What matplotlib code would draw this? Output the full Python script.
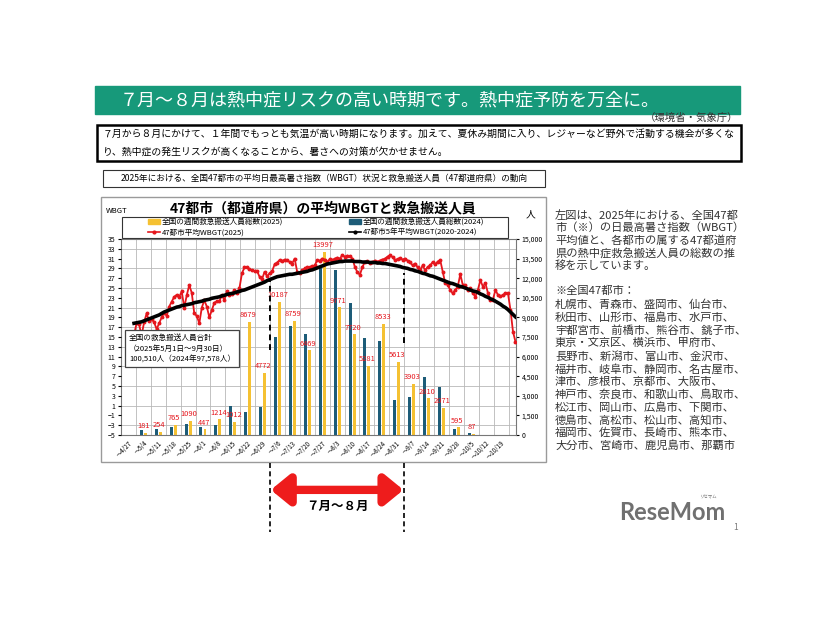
import numpy as np
import matplotlib
matplotlib.use('Agg')
import matplotlib.pyplot as plt
from matplotlib.patches import Rectangle, Patch
from matplotlib.lines import Line2D

plt.rcParams['font.family'] = ['Noto Sans CJK JP', 'DejaVu Sans']

# weekly categories (bars)
weeks = ['～4/27', '～5/4', '～5/11', '～5/18', '～5/25', '～6/1', '～6/8', '～6/15',
         '～6/22', '～6/29', '～7/6', '～7/13', '～7/20', '～7/27', '～8/3', '～8/10',
         '～8/17', '～8/24', '～8/31', '～9/7', '～9/14', '～9/21', '～9/28', '～10/5',
         '～10/12', '～10/19']
persons_2025 = [0, 181, 254, 765, 1090, 447, 1214, 1012, 8679, 4772, 10187, 8759, 6469,
                13997, 9771, 7720, 5281, 8533, 5613, 3903, 2810, 2071, 595, 87, 0, 0]
persons_2024 = [0, 380, 480, 640, 840, 630, 740, 2220, 1790, 2180, 7470, 8340, 7730,
                12900, 12600, 10080, 7400, 7220, 2680, 2880, 4410, 3650, 470, 140, 0, 0]

# daily WBGT, 5/1 - 9/30
wbgt_2025 = [15.4, 17.8, 17.6, 15.3, 18.0, 19.8, 18.3, 18.7, 18.0, 16.6,
             17.8, 19.0, 20.0, 19.3, 21.2, 22.2, 23.2, 23.6, 23.2, 24.3,
             21.0, 23.5, 25.6, 24.0, 19.8, 19.3, 17.8, 21.0, 22.5, 21.2,
             19.0, 20.5, 22.0, 22.3, 22.3, 23.5, 22.5, 24.3, 23.5, 23.8,
             24.5, 24.0, 25.0, 28.0, 29.2, 29.2, 28.8, 28.6, 28.5, 28.5,
             27.3, 26.8, 28.3, 27.4, 28.0, 28.4, 29.8, 30.2, 30.7, 30.5,
             30.8, 30.7, 30.3, 30.0, 31.0, 28.3, 28.0, 28.6, 29.0, 29.2,
             29.3, 29.4, 29.6, 30.7, 30.6, 31.0, 30.8, 30.3, 30.9, 30.7,
             31.0, 31.2, 31.0, 31.7, 31.4, 31.6, 31.5, 31.0, 29.3, 28.2,
             27.7, 29.3, 30.3, 30.5, 30.1, 30.3, 30.6, 30.4, 30.6, 30.8,
             31.0, 31.4, 31.7, 31.3, 30.7, 30.9, 31.1, 30.8, 31.0, 30.6,
             30.3, 29.6, 30.0, 29.2, 28.6, 29.6, 28.6, 29.3, 29.6, 30.3,
             29.8, 30.4, 30.7, 28.3, 26.0, 25.6, 24.6, 23.9, 24.6, 25.3,
             27.8, 25.6, 25.6, 24.6, 25.0, 24.0, 23.2, 24.6, 26.6, 25.3,
             26.0, 24.0, 22.6, 22.6, 24.6, 23.6, 23.3, 23.6, 23.9, 23.9,
             20.5, 16.1, 14.0]
wbgt_avg = [17.8, 17.9, 18.0, 18.1, 18.3, 18.5, 18.7, 18.9, 19.1, 19.3,
            19.5, 19.8, 20.1, 20.3, 20.5, 20.7, 20.9, 21.1, 21.2, 21.4,
            21.5, 21.6, 21.7, 21.8, 22.0, 22.1, 22.2, 22.3, 22.5, 22.6,
            22.7, 22.9, 23.0, 23.1, 23.2, 23.4, 23.5, 23.7, 23.8, 23.9,
            24.0, 24.2, 24.3, 24.5, 24.6, 24.8, 25.0, 25.2, 25.4, 25.6,
            25.8, 26.0, 26.2, 26.5, 26.7, 26.9, 27.1, 27.3, 27.4, 27.5,
            27.6, 27.7, 27.8, 27.8, 27.9, 28.0, 28.1, 28.2, 28.3, 28.4,
            28.6, 28.7, 28.9, 29.1, 29.3, 29.5, 29.7, 29.9, 30.0, 30.1,
            30.2, 30.3, 30.4, 30.4, 30.5, 30.5, 30.5, 30.5, 30.4, 30.4,
            30.4, 30.3, 30.3, 30.3, 30.2, 30.2, 30.2, 30.1, 30.1, 30.0,
            30.0, 29.9, 29.8, 29.7, 29.6, 29.5, 29.4, 29.2, 29.1, 29.0,
            28.8, 28.7, 28.5, 28.4, 28.2, 28.0, 27.9, 27.7, 27.5, 27.4,
            27.2, 27.0, 26.8, 26.6, 26.4, 26.2, 26.0, 25.9, 25.7, 25.5,
            25.3, 25.2, 25.0, 24.8, 24.6, 24.4, 24.3, 24.1, 23.8, 23.6,
            23.3, 23.1, 22.8, 22.6, 22.3, 22.0, 21.7, 21.3, 21.0, 20.6,
            20.1, 19.6, 19.1]

cities = ['札幌市、青森市、盛岡市、仙台市、',
          '秋田市、山形市、福島市、水戸市、',
          '宇都宮市、前橋市、熊谷市、銚子市、',
          '東京・文京区、横浜市、甲府市、',
          '長野市、新潟市、富山市、金沢市、',
          '福井市、岐阜市、静岡市、名古屋市、',
          '津市、彦根市、京都市、大阪市、',
          '神戸市、奈良市、和歌山市、鳥取市、',
          '松江市、岡山市、広島市、下関市、',
          '徳島市、高松市、松山市、高知市、',
          '福岡市、佐賀市、長崎市、熊本市、',
          '大分市、宮崎市、鹿児島市、那覇市']

YELLOW = '#f5c132'
BLUE = '#1d5c78'
RED = '#e5161d'
GREEN = '#17997a'

W, H = 826, 620
fig = plt.figure(figsize=(W / 100, H / 100), dpi=100)


def box(x0, y0, x1, y1):
    return [x0 / W, 1 - y1 / H, (x1 - x0) / W, (y1 - y0) / H]


# page decorations in pixel coordinates
bg = fig.add_axes([0, 0, 1, 1])
bg.set_xlim(0, W)
bg.set_ylim(H, 0)
bg.axis('off')

bg.add_patch(Rectangle((95, 86), 645, 28, color=GREEN))
bg.text(120, 100, '７月～８月は熱中症リスクの高い時期です。熱中症予防を万全に。',
        color='white', fontsize=13, va='center')
bg.text(738, 118, '（環境省・気象庁）', fontsize=7.5, color='#333333', ha='right', va='center')

bg.add_patch(Rectangle((97, 125), 644, 36, fill=False, ec='black', lw=1.8))
bg.text(103, 134, '７月から８月にかけて、１年間でもっとも気温が高い時期になります。加えて、夏休み期間に入り、レジャーなど野外で活動する機会が多くな',
        fontsize=7.1, va='center')
bg.text(103, 152, 'り、熱中症の発生リスクが高くなることから、暑さへの対策が欠かせません。',
        fontsize=7.1, va='center')

bg.add_patch(Rectangle((103, 170), 442, 17, fill=False, ec='#333333', lw=0.8))
bg.text(324, 178.5, '2025年における、全国47都市の平均日最高暑さ指数（WBGT）状況と救急搬送人員（47都道府県）の動向',
        fontsize=6.2, ha='center', va='center')

bg.add_patch(Rectangle((101, 197), 445, 265, fill=False, ec='#9a9a9a', lw=1))
bg.text(323, 208, '47都市（都道府県）の平均WBGTと救急搬送人員', fontsize=10,
        fontweight='bold', ha='center', va='center')
bg.text(106, 211, 'WBGT', fontsize=5.5, va='center')
bg.text(530, 214, '人', fontsize=7, ha='center', va='center')
bg.add_patch(Rectangle((122, 217), 386, 21, fill=False, ec='#333333', lw=0.8))

intro = ['左図は、2025年における、全国47都', '市（※）の日最高暑さ指数（WBGT）',
         '平均値と、各都市の属する47都道府', '県の熱中症救急搬送人員の総数の推', '移を示しています。']
for k, line in enumerate(intro):
    bg.text(555, 215 + k * 12.7, line, fontsize=8.1, color='#333333', va='center')
bg.text(555, 291, '※全国47都市：', fontsize=8.1, color='#333333', va='center')
for k, line in enumerate(cities):
    bg.text(555, 305 + k * 12.8, line, fontsize=8.1, color='#333333', va='center')

bg.text(672, 513, 'ReseMom', fontsize=17, fontweight='bold', color='#707070',
        family=['Lato', 'DejaVu Sans'], ha='center', va='center')
bg.text(708, 497, 'リセマム', fontsize=3.2, color='#707070', ha='center', va='center')
bg.text(736, 527, '1', fontsize=6, color='#777777', ha='center', va='center')

# bars (right axis, persons)
ax = fig.add_axes(box(121, 239, 516, 435))
x = np.arange(len(weeks))
ax.bar(x - 0.135, persons_2024, 0.2, color=BLUE, zorder=2)
ax.bar(x + 0.135, persons_2025, 0.2, color=YELLOW, zorder=2)
for i, v in enumerate(persons_2025):
    if v:
        ax.text(i + 0.05, v + 200, str(v), color=RED, fontsize=5.4, ha='center', va='bottom', zorder=3)
ax.set_xlim(-0.5, 26)
ax.set_ylim(0, 15000)
ax.yaxis.tick_right()
ax.set_yticks(np.arange(0, 15001, 1500))
ax.set_yticklabels([f'{v:,}' for v in np.arange(0, 15001, 1500)], fontsize=5)
ax.set_yticks(np.arange(0, 15001, 750), minor=True)
ax.set_xticks(x)
ax.set_xticklabels(weeks, rotation=45, ha='right', rotation_mode='anchor', fontsize=4.5)
ax.set_xticks(x + 0.5, minor=True)
ax.grid(which='minor', color='#b8b8b8', lw=0.6, zorder=0)
ax.tick_params(axis='x', which='both', length=0, pad=3)
ax.tick_params(axis='y', which='major', length=2, pad=2)
ax.tick_params(axis='y', which='minor', length=0)
for s in ax.spines.values():
    s.set_color('#777777')
    s.set_linewidth(0.8)

# dashed markers for July-August
xt = ax.get_xaxis_transform()
ax.plot([9.5, 9.5], [0.435, 0.80], transform=xt, ls=(0, (3, 2)), color='black', lw=1.4, zorder=4)
ax.plot([18.5, 18.5], [0.47, 0.825], transform=xt, ls=(0, (3, 2)), color='black', lw=1.4, zorder=4)
for xb in (9.5, 18.5):
    ax.plot([xb, xb], [-0.145, -0.495], transform=xt, ls=(0, (3, 2)), color='black',
            lw=1.2, clip_on=False)
ax.annotate('', xy=(18.45, -0.28), xytext=(9.55, -0.28), xycoords=xt, textcoords=xt,
            arrowprops=dict(arrowstyle='<|-|>,head_length=1.1,head_width=0.9', lw=6,
                            color='#ee1c1c', shrinkA=0, shrinkB=0))
ax.text(14, -0.367, '７月～８月', transform=xt, fontsize=9, fontweight='bold',
        ha='center', va='center')

# lines (left axis, WBGT)
ax2 = fig.add_axes(box(121, 239, 516, 435), frameon=False)
days = np.arange(len(wbgt_2025))
ax2.plot(days, wbgt_2025, color=RED, lw=1.3, marker='o', ms=1.8, zorder=3)
ax2.plot(days, wbgt_avg, color='black', lw=2.6, zorder=4)
ax2.set_xlim(-5.2, 152.2)
ax2.set_ylim(-5, 35)
ax2.set_yticks(np.arange(-5, 36, 2))
ax2.tick_params(axis='y', labelsize=5, length=2, pad=2)
ax2.set_xticks([])
ax2.patch.set_alpha(0)

# annotation box
ax2.text(0.02, 0.365, '全国の救急搬送人員合計\n（2025年5月1日～9月30日）\n100,510人（2024年97,578人）',
         transform=ax2.transAxes, fontsize=5.5, linespacing=1.45, va='bottom', ha='left',
         bbox=dict(boxstyle='square,pad=0.5', fc='white', ec='#444444', lw=0.9), zorder=6)

handles = [Patch(color=YELLOW), Line2D([], [], color=RED, lw=1.2, marker='o', ms=2),
           Patch(color=BLUE), Line2D([], [], color='black', lw=1.2, marker='o', ms=2)]
labels = ['全国の週間救急搬送人員総数(2025)', '47都市平均WBGT(2025)',
          '全国の週間救急搬送人員総数(2024)', '47都市5年平均WBGT(2020-2024)']
fig.legend(handles, labels, ncol=2, loc='center left',
           bbox_to_anchor=(148 / W, 1 - 227.5 / H), fontsize=5.5, frameon=False,
           labelspacing=0.3, columnspacing=8.6,
           handlelength=1.6, handleheight=0.6, handletextpad=0.2, borderaxespad=0,
           borderpad=0)

fig.savefig('out.png', dpi=100, facecolor='white')
